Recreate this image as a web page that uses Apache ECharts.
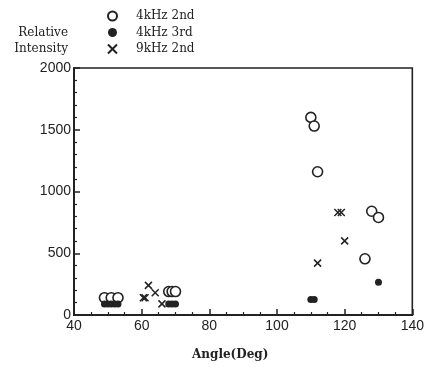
<!DOCTYPE html>
<html><head><meta charset="utf-8">
<script src="https://cdn.jsdelivr.net/npm/echarts@6/dist/echarts.min.js"></script>
<style>html,body{margin:0;padding:0;background:#fff}#c{width:427px;height:367px}</style>
</head><body><div id="c"></div>
<script>
// 4kHz 2nd (open circles): [angle, intensity]
const s4k2nd = [[49,140],[51,140],[53,140],[68,190],[69,190],[70,190],
  [110,1600],[111,1530],[112,1160],[126,455],[128,840],[130,790]];
// 4kHz 3rd (filled dots)
const s4k3rd = [[49,90],[50,90],[51,90],[52,90],[53,90],[68,90],[69,90],[70,90],
  [110,125],[111,125],[130,265]];
// 9kHz 2nd (crosses)
const s9k2nd = [[60.5,140],[61,140],[62,240],[64,180],[66,90],
  [112,420],[118,830],[119,830],[120,600]];
const xTicks = [40,60,80,100,120,140];
const yTicks = [0,500,1000,1500,2000];
const names = ['4kHz 2nd','4kHz 3rd','9kHz 2nd'];

const ink = '#222';
const chart = echarts.init(document.getElementById('c'));
chart.setOption({
  animation:false,
  backgroundColor:'#fff',
  grid:{left:74,top:68,right:14,bottom:52,show:true,borderColor:ink,borderWidth:1.6,backgroundColor:'transparent'},
  legend:{
    orient:'vertical', left:102, top:5, itemGap:4.5, itemWidth:9, itemHeight:9,
    data:names,
    textStyle:{fontFamily:'DejaVu Serif',fontSize:12,color:ink,padding:[0,0,0,14]}
  },
  xAxis:{
    type:'value', min:xTicks[0], max:xTicks[xTicks.length-1], interval:20,
    name:'Angle(Deg)', nameLocation:'middle', nameGap:34,
    nameTextStyle:{fontFamily:'DejaVu Serif',fontSize:12,fontWeight:'bold',color:ink,padding:[0,26,0,0]},
    axisLine:{lineStyle:{color:ink,width:2}},
    axisTick:{inside:true,length:6,lineStyle:{color:ink,width:1.5}},
    minorTick:{show:true,splitNumber:4,length:3,lineStyle:{color:ink,width:1.2}},
    axisLabel:{fontFamily:'Liberation Sans',fontSize:14,color:ink,margin:4,formatter:v=>String(v)},
    splitLine:{show:false}
  },
  yAxis:{
    type:'value', min:yTicks[0], max:yTicks[yTicks.length-1], interval:500,
    name:'Relative\nIntensity', nameLocation:'end', nameGap:11,
    nameTextStyle:{fontFamily:'DejaVu Serif',fontSize:12,color:ink,align:'right',verticalAlign:'bottom',padding:[0,6,0,0],lineHeight:16},
    axisLine:{lineStyle:{color:ink,width:2}},
    axisTick:{inside:true,length:6,lineStyle:{color:ink,width:1.5}},
    minorTick:{show:true,splitNumber:5,length:3,lineStyle:{color:ink,width:1.2}},
    axisLabel:{fontFamily:'Liberation Sans',fontSize:14,color:ink,margin:3,formatter:v=>String(v)},
    splitLine:{show:false}
  },
  series:[
    {name:names[0],type:'scatter',data:s4k2nd,symbol:'circle',symbolSize:10,
     itemStyle:{color:'#fff',borderColor:ink,borderWidth:1.6,opacity:1}},
    {name:names[1],type:'scatter',data:s4k3rd,symbol:'circle',symbolSize:7,
     itemStyle:{color:ink,opacity:1}},
    {name:names[2],type:'scatter',data:s9k2nd,symbol:'path://M0,0L10,10M10,0L0,10',symbolSize:7,
     itemStyle:{color:'transparent',borderColor:ink,borderWidth:1.5,opacity:1}}
  ]
});
</script></body></html>
